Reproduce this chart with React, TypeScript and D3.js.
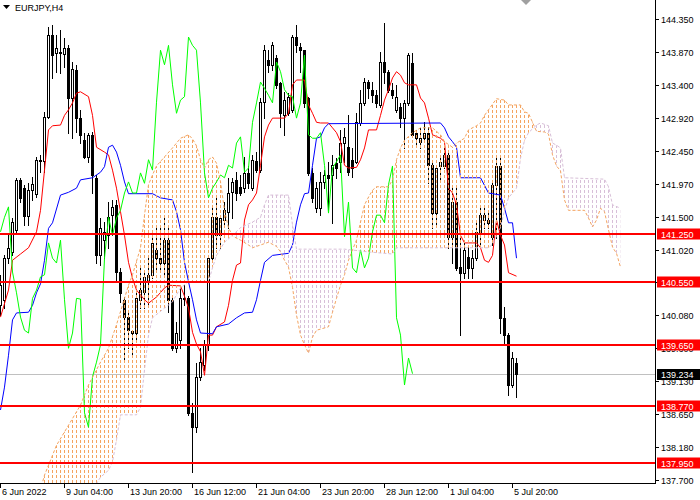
import * as d3 from 'd3';

// EURJPY H4 with Ichimoku
const symbol = 'EURJPY,H4';
const lastPrice = 139.234;
const levels = [141.25, 140.55, 139.65, 138.77, 137.95];
const priceTicks = [144.35, 143.87, 143.4, 142.92, 142.45, 141.97, 141.5, 141.02, 140.55, 140.08, 139.6, 139.13, 138.65, 138.18, 137.7];
const dateLabels = ['6 Jun 2022', '9 Jun 04:00', '13 Jun 20:00', '16 Jun 12:00', '21 Jun 04:00', '23 Jun 20:00', '28 Jun 12:00', '1 Jul 04:00', '5 Jul 20:00'];
const dateStep = 16;
const chikouShift = 26;

const opens = [
  140.22, 140.30, 140.90, 140.99, 141.31, 142.03, 141.91, 141.51, 141.88, 141.83,
  142.32, 142.30, 142.94, 144.12, 143.86, 143.87, 143.85, 143.93, 143.21, 143.61,
  142.92, 142.60, 142.36, 142.68, 142.06, 140.94, 141.16, 141.23, 141.52, 141.67,
  140.70, 140.30, 140.05, 139.85, 139.82, 140.30, 140.41, 140.58, 140.66, 141.02,
  140.90, 140.83, 141.16, 140.30, 139.60, 139.72, 140.32, 140.32, 138.67, 138.46,
  139.19, 139.36, 139.65, 140.90, 141.49, 141.23, 141.45, 141.57, 141.85, 142.03,
  141.93, 141.91, 142.13, 141.91, 142.30, 142.17, 143.15, 143.76, 143.69, 143.79,
  143.43, 142.96, 142.99, 143.04, 144.09, 143.95, 143.90, 143.21, 142.13, 141.62,
  141.62, 142.00, 142.10, 142.10, 142.27, 142.29, 142.56, 142.50, 142.32, 142.29,
  142.85, 143.14, 143.44, 143.33, 143.25, 143.11, 143.73, 143.59, 143.33, 143.04,
  143.08, 142.92, 143.14, 143.72, 142.71, 142.58, 142.63, 142.71, 142.24, 141.55,
  142.23, 142.23, 142.39, 141.21, 141.71, 140.77, 140.69, 140.92, 140.76, 140.90,
  141.28, 141.45, 141.45, 141.21, 141.96, 142.23, 140.04, 139.79, 139.07, 139.39,
];
const highs = [
  140.66, 140.94, 141.23, 141.48, 142.06, 142.06, 141.96, 141.98, 142.07, 142.36,
  142.39, 143.01, 144.23, 144.26, 144.12, 144.19, 144.08, 143.97, 143.73, 143.69,
  143.04, 142.71, 142.71, 142.72, 142.10, 141.48, 141.42, 141.71, 141.74, 141.74,
  140.76, 140.34, 140.15, 139.86, 140.41, 140.76, 140.70, 140.90, 141.23, 141.33,
  141.33, 141.48, 141.38, 140.37, 139.98, 140.51, 140.51, 140.35, 138.81, 139.39,
  139.60, 139.72, 140.94, 141.62, 141.81, 141.52, 141.71, 142.06, 142.06, 142.14,
  142.10, 142.36, 142.23, 142.39, 142.43, 143.21, 143.97, 143.90, 144.02, 143.83,
  143.44, 143.30, 143.28, 144.12, 144.26, 144.00, 143.90, 143.23, 142.20, 142.00,
  142.14, 142.17, 142.29, 142.39, 142.34, 142.75, 142.78, 142.96, 142.49, 142.99,
  143.33, 143.50, 143.47, 143.44, 143.33, 143.87, 144.29, 143.61, 143.43, 143.40,
  143.14, 143.18, 143.86, 143.86, 142.75, 142.78, 142.86, 142.79, 142.27, 142.24,
  142.39, 142.53, 142.43, 141.91, 141.91, 141.31, 141.13, 141.09, 141.02, 141.42,
  141.64, 141.64, 141.55, 142.03, 142.34, 142.36, 140.19, 139.82, 139.55, 139.46,
];
const lows = [
  140.08, 140.18, 140.83, 140.94, 141.26, 141.71, 141.38, 141.38, 141.74, 141.78,
  142.14, 142.14, 142.92, 143.50, 143.59, 143.57, 143.66, 142.71, 142.63, 142.72,
  142.56, 142.34, 142.29, 141.84, 140.83, 140.80, 140.90, 141.05, 141.23, 140.56,
  140.27, 139.43, 139.60, 139.47, 139.69, 140.18, 140.18, 140.22, 140.61, 140.70,
  140.70, 140.66, 140.12, 139.57, 139.55, 139.60, 140.22, 138.64, 137.81, 138.39,
  139.14, 139.29, 139.57, 140.84, 141.05, 141.05, 141.38, 141.33, 141.48, 141.74,
  141.81, 141.85, 141.91, 141.88, 142.14, 142.14, 142.92, 143.59, 143.61, 143.35,
  142.79, 142.68, 142.96, 143.01, 143.87, 143.59, 143.08, 142.10, 141.71, 141.57,
  141.52, 141.91, 141.57, 141.41, 142.06, 142.14, 142.29, 142.10, 142.07, 142.27,
  142.82, 143.11, 143.21, 143.15, 143.08, 143.08, 143.43, 143.30, 143.21, 143.01,
  142.79, 142.49, 143.11, 142.65, 142.50, 142.49, 142.58, 141.98, 141.33, 141.38,
  142.00, 142.20, 141.05, 140.83, 140.73, 139.79, 140.61, 140.61, 140.61, 140.87,
  141.09, 141.33, 141.33, 141.09, 141.19, 139.82, 139.65, 138.93, 139.04, 138.90,
];
const closes = [
  140.51, 140.90, 141.05, 141.42, 142.03, 141.77, 141.51, 141.88, 141.97, 142.32,
  142.30, 142.94, 144.12, 143.83, 143.93, 143.86, 143.93, 143.21, 143.63, 142.92,
  142.68, 142.36, 142.68, 142.10, 140.94, 141.33, 141.28, 141.49, 141.64, 140.70,
  140.40, 140.05, 139.86, 139.82, 140.32, 140.44, 140.63, 140.66, 141.12, 140.90,
  140.83, 141.16, 140.30, 139.60, 139.82, 140.32, 140.31, 138.67, 138.46, 139.19,
  139.40, 139.65, 140.90, 141.49, 141.23, 141.48, 141.59, 141.84, 142.00, 141.84,
  141.84, 142.13, 141.98, 142.32, 142.17, 143.15, 143.90, 143.69, 143.97, 143.40,
  142.99, 143.18, 143.23, 144.09, 143.97, 143.90, 143.14, 142.13, 141.77, 141.91,
  142.00, 142.10, 142.06, 142.24, 142.20, 142.56, 142.65, 142.14, 142.20, 142.86,
  143.14, 143.44, 143.35, 143.25, 143.14, 143.73, 143.59, 143.33, 143.25, 143.23,
  142.92, 143.14, 143.83, 142.68, 142.63, 142.63, 142.71, 142.24, 141.55, 142.20,
  142.29, 142.39, 141.21, 141.71, 140.76, 140.69, 141.02, 140.76, 140.90, 141.28,
  141.52, 141.52, 141.41, 141.96, 142.23, 140.04, 139.79, 139.07, 139.46, 139.234,
];

// [bar index, price] where the line turns
const tenkan: [number, number][] = [
  [0, 140.05], [2, 140.44], [3, 140.87], [5, 140.96], [7, 141.05], [9, 141.28], [10, 141.59], [11, 142.17],
  [12, 142.75], [13, 142.81], [15, 142.82], [16, 142.96], [17, 143.04], [18, 143.14], [19, 143.28], [20, 143.30],
  [22, 143.23], [23, 142.96], [24, 142.50], [26, 142.43], [27, 142.39], [28, 142.17], [29, 141.91], [30, 141.57],
  [31, 141.23], [32, 140.84], [33, 140.61], [34, 140.44], [36, 140.30], [37, 140.25], [39, 140.34], [41, 140.47],
  [42, 140.51], [45, 140.50], [46, 140.35], [47, 140.18], [48, 139.83], [49, 139.66], [50, 139.55], [51, 139.21],
  [52, 139.79], [53, 139.79], [54, 139.91], [56, 139.98], [57, 140.22], [58, 140.58], [59, 140.80], [60, 140.83],
  [61, 141.45], [62, 141.67], [63, 141.74], [64, 141.84], [65, 142.24], [66, 142.65], [67, 142.82], [68, 142.92],
  [71, 142.92], [72, 142.99], [73, 143.40], [74, 143.47], [76, 143.47], [77, 143.11], [78, 142.99], [79, 142.86],
  [80, 142.85], [82, 142.85], [83, 142.78], [84, 142.71], [85, 142.58], [86, 142.24], [87, 142.20], [89, 142.21],
  [90, 142.32], [91, 142.49], [92, 142.75], [94, 142.75], [95, 142.96], [96, 143.18], [97, 143.33], [98, 143.50],
  [99, 143.59], [100, 143.54], [101, 143.43], [102, 143.40], [104, 143.40], [105, 143.21], [106, 143.14], [107, 142.92],
  [108, 142.68], [110, 142.63], [111, 142.58], [112, 141.91], [113, 141.84], [114, 141.67], [115, 141.23], [116, 141.12],
  [119, 141.12], [120, 141.05], [121, 140.87], [122, 140.84], [123, 140.94], [124, 141.45], [125, 141.23], [126, 141.09],
  [127, 140.69], [129, 140.64],
];
const kijun: [number, number][] = [
  [0, 138.71], [1, 139.04], [2, 139.50], [3, 140.01], [4, 140.11], [7, 140.12], [8, 140.22], [9, 140.40],
  [10, 140.53], [11, 140.87], [12, 141.33], [13, 141.41], [15, 141.81], [17, 141.85], [19, 141.91], [20, 142.03],
  [23, 142.06], [25, 142.14], [26, 142.22], [27, 142.50], [28, 142.53], [29, 142.43], [30, 142.24], [31, 142.00],
  [32, 141.83], [38, 141.83], [40, 141.77], [43, 141.74], [44, 141.57], [45, 141.31], [46, 140.84], [47, 140.56],
  [48, 140.30], [49, 140.01], [50, 139.82], [53, 139.81], [54, 139.91], [57, 139.95], [59, 140.04], [61, 140.11],
  [63, 140.12], [64, 140.30], [65, 140.58], [66, 140.84], [68, 140.94], [72, 140.97], [73, 141.09], [74, 141.42],
  [75, 141.67], [76, 141.83], [77, 141.84], [78, 142.24], [79, 142.63], [80, 142.65], [81, 142.78], [82, 142.84],
  [110, 142.85], [111, 142.78], [112, 142.65], [113, 142.58], [114, 142.50], [115, 142.06], [120, 142.06], [122, 141.84],
  [125, 141.81], [126, 141.62], [127, 141.41], [128, 141.41], [129, 140.90],
];
// Senkou spans, already shifted 26 bars ahead (first points sit below the visible range)
const spanA: [number, number][] = [
  [0, 137.10], [10, 137.56], [11, 137.77], [14, 138.20], [17, 138.49], [20, 138.78], [22, 139.07], [25, 139.40],
  [27, 139.60], [29, 139.94], [31, 140.32], [32, 140.51], [33, 140.66], [35, 141.05], [36, 141.52], [37, 141.96],
  [38, 142.10], [39, 142.23], [41, 142.36], [43, 142.49], [45, 142.63], [47, 142.68], [48, 142.62], [49, 142.52],
  [50, 142.32], [51, 142.20], [52, 142.32], [53, 142.36], [54, 142.27], [55, 142.00], [56, 141.59], [57, 141.34],
  [58, 141.22], [60, 141.16], [62, 141.09], [63, 141.05], [65, 141.09], [67, 141.13], [69, 141.07], [70, 140.99],
  [71, 140.87], [72, 140.77], [73, 140.48], [74, 140.08], [75, 139.79], [76, 139.65], [77, 139.53], [78, 139.76],
  [79, 139.86], [82, 139.91], [83, 140.12], [84, 140.32], [85, 140.51], [86, 140.66], [87, 140.87], [88, 141.02],
  [89, 141.16], [90, 141.42], [91, 141.67], [92, 141.78], [93, 141.88], [94, 141.93], [97, 141.93], [98, 142.03],
  [99, 142.32], [100, 142.49], [101, 142.60], [103, 142.71], [105, 142.78], [108, 142.78], [110, 142.68], [111, 142.58],
  [113, 142.50], [114, 142.56], [116, 142.63], [117, 142.75], [119, 142.81], [120, 142.85], [121, 142.96], [122, 143.04],
  [124, 143.20], [126, 143.18], [127, 143.11], [130, 143.11], [131, 143.01], [132, 142.99], [133, 142.86], [134, 142.73],
  [136, 142.72], [137, 142.69], [138, 142.39], [139, 142.23], [140, 142.16], [141, 141.74], [142, 141.59], [146, 141.59],
  [147, 141.48], [148, 141.35], [149, 141.45], [150, 141.62], [151, 141.57], [152, 141.31], [153, 141.06], [154, 140.97],
  [155, 140.77],
];
const spanB: [number, number][] = [
  [0, 136.90], [10, 137.10], [23, 137.56], [25, 137.74], [27, 137.84], [28, 137.96], [29, 138.28], [30, 138.64],
  [34, 138.64], [35, 138.75], [36, 139.29], [37, 139.79], [38, 140.04], [41, 140.18], [43, 140.27], [45, 140.47],
  [47, 140.56], [52, 140.56], [53, 140.76], [54, 140.94], [56, 141.13], [58, 141.23], [60, 141.34], [63, 141.42],
  [65, 141.49], [66, 141.67], [67, 141.81], [72, 141.81], [73, 141.38], [74, 141.03], [86, 141.03], [92, 140.99],
  [98, 140.96], [99, 141.05], [122, 141.05], [123, 141.10], [124, 141.22], [125, 141.34], [126, 141.59], [127, 141.77],
  [129, 141.91], [130, 142.34], [131, 142.60], [132, 142.71], [134, 142.82], [135, 142.85], [137, 142.81], [138, 142.56],
  [139, 142.53], [140, 142.49], [141, 142.06], [151, 142.04], [152, 141.93], [153, 141.67], [155, 141.62],
];

const W = 700;
const H = 500;
const plotRight = 655;
const plotBottom = 483;
const barPx = 4;
const font = '"Liberation Sans", Arial, sans-serif';

export default function App() {
  const x = d3.scaleLinear().domain([0, plotRight / barPx]).range([0, plotRight]);
  const y = d3.scaleLinear().domain([137.7, 144.35]).range([480, 19]);
  const col = (i: number) => Math.round(x(i));
  const row = (v: number) => Math.round(y(v));

  const line = d3.line<[number, number]>()
    .x(d => col(d[0]) + 0.5)
    .y(d => y(d[1]));

  const chikou: [number, number][] = closes.slice(chikouShift).map((c, j) => [j, c]);

  const aPath = line(spanA)!;
  const bPath = line(spanB)!;
  const cx0 = col(spanA[0][0]) + 0.5;
  const cx1 = col(spanA[spanA.length - 1][0]) + 0.5;
  const closeDown = (d: string) => `${d}L${cx1},${H + 50}L${cx0},${H + 50}Z`;
  const closeUp = (d: string) => `${d}L${cx1},-50L${cx0},-50Z`;

  const fmt = d3.format('.3f');

  return (
    <svg width={W} height={H} style={{ position: 'fixed', left: 0, top: 0, background: '#fff' }}>
      <defs>
        <clipPath id="plotClip">
          <rect x={0} y={0} width={plotRight} height={plotBottom} />
        </clipPath>
        <clipPath id="belowA"><path d={closeDown(aPath)} /></clipPath>
        <clipPath id="belowB"><path d={closeDown(bPath)} /></clipPath>
        <pattern id="hatchOrange" patternUnits="userSpaceOnUse" width={barPx} height={5}>
          <rect x={0} y={0} width={1} height={3} fill="#F4A460" />
        </pattern>
        <pattern id="hatchThistle" patternUnits="userSpaceOnUse" width={barPx} height={5}>
          <rect x={0} y={0} width={1} height={3} fill="#D8BFD8" />
        </pattern>
      </defs>

      <g clipPath="url(#plotClip)">
        {/* bid line */}
        <line x1={0} x2={plotRight} y1={row(lastPrice) + 0.5} y2={row(lastPrice) + 0.5} stroke="#C0C0C0" />

        {/* candles */}
        {closes.map((c, i) => {
          const o = opens[i];
          const cx = col(i);
          const top = row(Math.max(o, c));
          const bot = row(Math.min(o, c));
          return (
            <g key={i} shapeRendering="crispEdges">
              <line x1={cx + 0.5} x2={cx + 0.5} y1={row(highs[i])} y2={row(lows[i]) + 1} stroke="#000" />
              <path
                d={`M${cx - 0.5},${top + 0.5}h2v${Math.max(bot - top, 0)}h-2Z`}
                fill={c >= o ? '#fff' : '#000'}
                stroke="#000"
              />
            </g>
          );
        })}

        <path d={line(tenkan)!} fill="none" stroke="#FF0000" />
        <path d={line(kijun)!} fill="none" stroke="#0000FF" />

        {/* kumo: dotted histogram between the spans */}
        <path d={closeUp(bPath)} fill="url(#hatchOrange)" clipPath="url(#belowA)" />
        <path d={closeUp(aPath)} fill="url(#hatchThistle)" clipPath="url(#belowB)" />

        <path d={line(chikou)!} fill="none" stroke="#00FF00" />
        <path d={aPath} fill="none" stroke="#F4A460" strokeDasharray="3 2" />
        <path d={bPath} fill="none" stroke="#D8BFD8" strokeDasharray="3 2" />

        {levels.map(v => (
          <line key={v} x1={0} x2={plotRight} y1={row(v)} y2={row(v)} stroke="#FF0000" strokeWidth={2} />
        ))}
      </g>

      {/* shift marker */}
      <path
        d={`M${col(closes.length + 0.2)},0h10l-5,5Z`}
        fill="#A0A0A0"
      />

      {/* frame */}
      <g shapeRendering="crispEdges">
        <line x1={plotRight + 0.5} x2={plotRight + 0.5} y1={0} y2={plotBottom + 1} stroke="#000" />
        <line x1={0} x2={plotRight + 1} y1={plotBottom + 0.5} y2={plotBottom + 0.5} stroke="#000" />
      </g>

      {/* price axis */}
      <g fontFamily={font} fontSize={9} fill="#000">
        {priceTicks.map(v => (
          <g key={v}>
            <line x1={plotRight} x2={plotRight + 4} y1={row(v) + 0.5} y2={row(v) + 0.5} stroke="#000" shapeRendering="crispEdges" />
            <text x={plotRight + 6} y={row(v) + 3.5}>{fmt(v)}</text>
          </g>
        ))}
      </g>

      <g fontFamily={font} fontSize={9}>
        {levels.map(v => (
          <g key={v}>
            <rect x={plotRight + 2} y={row(v) - 5.5} width={W - plotRight - 2} height={11} fill="#FF0000" />
            <text x={plotRight + 6} y={row(v) + 3.5} fill="#fff">{fmt(v)}</text>
          </g>
        ))}
        <rect x={plotRight + 2} y={row(lastPrice) - 5} width={W - plotRight - 2} height={11} fill="#000" />
        <text x={plotRight + 6} y={row(lastPrice) + 4} fill="#fff">{fmt(lastPrice)}</text>
      </g>

      {/* time axis */}
      <g fontFamily={font} fontSize={9} fill="#000">
        {dateLabels.map((s, k) => {
          const tx = col(k * dateStep);
          return (
            <g key={s}>
              <line x1={tx + 0.5} x2={tx + 0.5} y1={plotBottom} y2={plotBottom + 5} stroke="#000" shapeRendering="crispEdges" />
              <text x={tx + 2} y={plotBottom + 12}>{s}</text>
            </g>
          );
        })}
      </g>

      {/* title */}
      <path d="M3,5h7l-3.5,4Z" fill="#000" />
      <text x={15} y={11} fontFamily={font} fontSize={9} fill="#000">{symbol}</text>
    </svg>
  );
}
